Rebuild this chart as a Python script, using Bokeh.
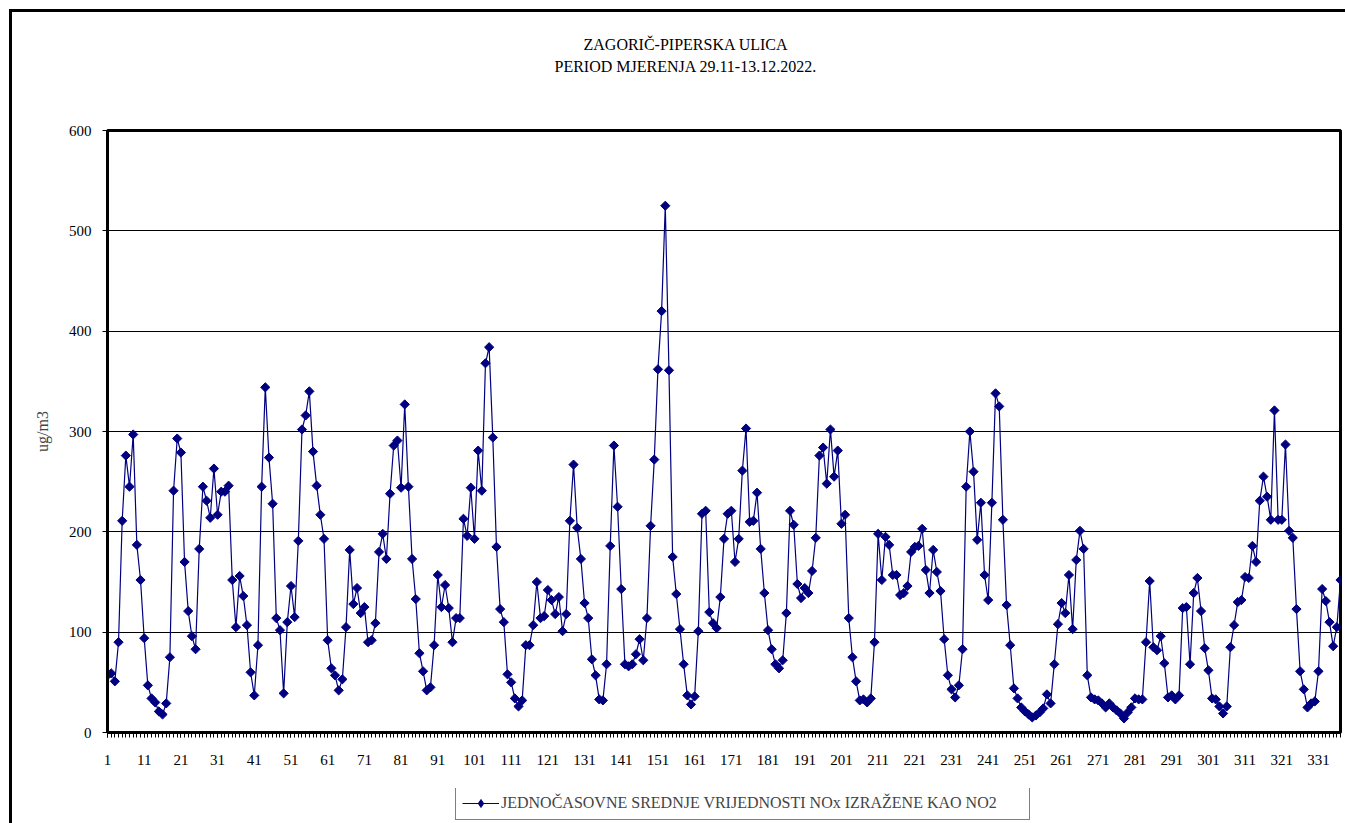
import numpy as np
from bokeh.plotting import figure
from bokeh.layouts import column
from bokeh.models import Range1d, FixedTicker, Legend, LegendItem, ColumnDataSource, Title
from bokeh.embed import file_html
from bokeh.resources import INLINE

title_line1 = "ZAGORIČ-PIPERSKA ULICA"
title_line2 = "PERIOD MJERENJA 29.11-13.12.2022."
y_axis_title = "ug/m3"
series_name = "JEDNOČASOVNE SREDNJE VRIJEDNOSTI NOx IZRAŽENE KAO NO2"

nox_values = [
    57, 59, 51, 90, 211, 276, 245, 297, 187, 152,
    94, 47, 34, 30, 21, 18, 29, 75, 241, 293,
    279, 170, 121, 96, 83, 183, 245, 231, 214, 263,
    217, 240, 240, 246, 152, 105, 156, 136, 107, 60,
    37, 87, 245, 344, 274, 228, 114, 102, 39, 110,
    146, 115, 191, 302, 316, 340, 280, 246, 217, 193,
    92, 64, 57, 42, 53, 105, 182, 128, 144, 119,
    125, 90, 92, 109, 180, 198, 173, 238, 286, 291,
    244, 327, 245, 173, 133, 79, 61, 42, 45, 87,
    157, 125, 147, 124, 90, 114, 114, 213, 196, 244,
    193, 281, 241, 368, 384, 294, 185, 123, 110, 58,
    50, 34, 26, 32, 87, 87, 107, 150, 114, 116,
    142, 132, 118, 135, 101, 118, 211, 267, 204, 173,
    129, 114, 73, 57, 33, 32, 68, 186, 286, 225,
    143, 68, 66, 68, 78, 93, 72, 114, 206, 272,
    362, 420, 525, 361, 175, 138, 103, 68, 37, 28,
    36, 101, 218, 221, 120, 109, 104, 135, 193, 218,
    221, 170, 193, 261, 303, 210, 211, 239, 183, 139,
    102, 83, 68, 64, 72, 119, 221, 207, 148, 134,
    144, 139, 161, 194, 276, 284, 248, 302, 255, 281,
    208, 217, 114, 75, 51, 32, 33, 30, 34, 90,
    198, 152, 195, 187, 157, 157, 137, 139, 146, 180,
    185, 186, 203, 162, 139, 182, 160, 141, 93, 57,
    43, 35, 47, 83, 245, 300, 260, 192, 229, 157,
    132, 229, 338, 325, 212, 127, 87, 44, 34, 25,
    21, 18, 15, 17, 20, 24, 38, 29, 68, 108,
    129, 119, 157, 103, 172, 201, 183, 57, 35, 33,
    32, 29, 25, 29, 25, 22, 19, 14, 20, 25,
    34, 33, 33, 90, 151, 85, 82, 96, 69, 35,
    37, 33, 37, 124, 125, 68, 139, 154, 121, 84,
    62, 34, 33, 26, 19, 26, 85, 107, 130, 132,
    155, 154, 186, 170, 231, 255, 235, 212, 321, 212,
    212, 287, 201, 194, 123, 61, 43, 25, 29, 31,
    61, 143, 131, 110, 86, 105, 152,
]
hours = list(range(1, len(nox_values) + 1))
x_label_ticks = list(range(1, 332, 10))
y_ticks = [0, 100, 200, 300, 400, 500, 600]

FONT = "Liberation Serif"
NAVY = "#000080"

W = 1345
H_MAIN, H_LEG = 788, 35
ML, MR, MT, MB = 107, 5, 130, 56
p = figure(width=W, height=H_MAIN, output_backend="svg", toolbar_location=None,
           x_range=Range1d(1, len(hours)), y_range=Range1d(0, 600),
           min_border_left=ML, min_border_right=MR, min_border_top=MT, min_border_bottom=MB)
p.background_fill_color = "white"
p.border_fill_color = None
p.styles = {
    "background": "linear-gradient(#000, #000) 9px 9px / 3px 100% no-repeat, "
                  "linear-gradient(#000, #000) 9px 9px / 100% 3px no-repeat, #fff"
}
p.outline_line_color = "black"
p.outline_line_width = 3

p.xgrid.visible = False
p.ygrid.ticker = FixedTicker(ticks=y_ticks)
p.ygrid.grid_line_color = "black"
p.ygrid.grid_line_width = 1

p.yaxis.ticker = FixedTicker(ticks=y_ticks)
p.xaxis.ticker = FixedTicker(ticks=x_label_ticks, minor_ticks=hours)
for ax in (p.xaxis[0], p.yaxis[0]):
    ax.axis_line_color = "black"
    ax.axis_line_width = 3
    ax.major_tick_line_color = "black"
    ax.major_tick_out = 5
    ax.major_tick_in = 0
    ax.major_label_text_font = FONT
    ax.major_label_text_font_size = "15px"
    ax.major_label_text_color = "black"
p.xaxis.minor_tick_line_color = "black"
p.xaxis.minor_tick_out = 5
p.xaxis.minor_tick_in = 0
p.yaxis.minor_tick_line_color = None
p.xaxis.major_label_standoff = 17
p.yaxis.major_label_standoff = 11
p.yaxis.axis_label = y_axis_title
p.yaxis.axis_label_text_font = FONT
p.yaxis.axis_label_text_font_size = "16px"
p.yaxis.axis_label_text_font_style = "normal"
p.yaxis.axis_label_standoff = 15

src = ColumnDataSource(data=dict(x=hours, y=nox_values))
p.line("x", "y", source=src, line_color=NAVY, line_width=1.2)
p.scatter("x", "y", source=src, marker="square", angle=np.pi / 4, size=6.5,
          fill_color=NAVY, line_color=NAVY)

# spacer above the frame, then the two title lines
p.add_layout(Title(text=" ", text_font_size="1px", standoff=53), "above")
t2 = Title(text=title_line2, align="left", offset=447, standoff=0, vertical_align="bottom",
           text_font=FONT, text_font_size="16px", text_font_style="normal", text_color="black")
t1 = Title(text=title_line1, align="left", offset=476, standoff=6, vertical_align="bottom",
           text_font=FONT, text_font_size="16px", text_font_style="normal", text_color="black")
p.add_layout(t2, "above")
p.add_layout(t1, "above")

# legend strip below the chart (its frame is aligned with the main frame)
lg = figure(width=W, height=H_LEG, output_backend="svg", toolbar_location=None,
            x_range=Range1d(0, 1), y_range=Range1d(0, 1),
            min_border_left=0, min_border_right=0, min_border_top=0, min_border_bottom=0,
            x_axis_type=None, y_axis_type=None)
lg.grid.visible = False
lg.outline_line_color = None
lg.background_fill_color = None
lg.border_fill_color = None
lg.styles = {"background": "linear-gradient(#000, #000) 9px 0 / 3px 100% no-repeat, #fff"}
leg_src = ColumnDataSource(data=dict(x=[-5.0], y=[-5.0]))
lr = lg.line("x", "y", source=leg_src, line_color=NAVY, line_width=1.2)
mr = lg.scatter("x", "y", source=leg_src, marker="diamond", size=10,
                fill_color=NAVY, line_color=NAVY)
legend = Legend(items=[LegendItem(label=series_name, renderers=[lr, mr])],
                location=(348, 3))
legend.border_line_color = "black"
legend.border_line_width = 1
legend.background_fill_color = "white"
legend.label_text_font = FONT
legend.label_text_font_size = "16px"
legend.glyph_width = 37
legend.padding = 6
legend.margin = 0
legend.label_standoff = 2
legend.label_width = 522
lg.add_layout(legend, "center")

layout = column(p, lg, spacing=0)
open("out.html", "w").write(file_html(layout, INLINE))
